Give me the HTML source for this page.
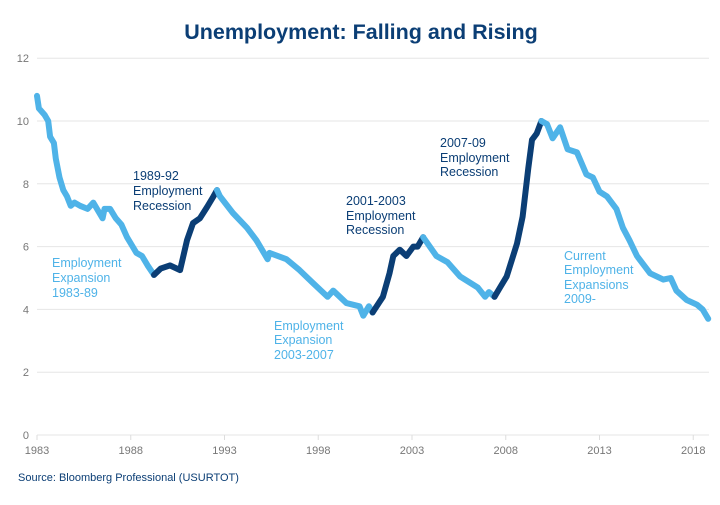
<!DOCTYPE html>
<html><head><meta charset="utf-8"><style>
body{margin:0;background:#fff;font-family:"Liberation Sans",sans-serif}
svg text{font-family:"Liberation Sans",sans-serif}
</style></head><body>
<svg width="720" height="500">
<text x="361" y="39" text-anchor="middle" font-size="21.5" font-weight="bold" fill="#0b3e75">Unemployment: Falling and Rising</text>
<g id="grid"></g><g id="axes"></g><g id="lines"></g>
<g font-size="12.5">
<text fill="#0b3e75"><tspan x="133" y="180">1989-92</tspan><tspan x="133" y="195">Employment</tspan><tspan x="133" y="210">Recession</tspan></text>
<text fill="#4fb3e8"><tspan x="52" y="267">Employment</tspan><tspan x="52" y="282">Expansion</tspan><tspan x="52" y="297">1983-89</tspan></text>
<text fill="#4fb3e8"><tspan x="274" y="330">Employment</tspan><tspan x="274" y="344">Expansion</tspan><tspan x="274" y="359">2003-2007</tspan></text>
<text fill="#0b3e75"><tspan x="346" y="205">2001-2003</tspan><tspan x="346" y="220">Employment</tspan><tspan x="346" y="234">Recession</tspan></text>
<text fill="#0b3e75"><tspan x="440" y="147">2007-09</tspan><tspan x="440" y="162">Employment</tspan><tspan x="440" y="176">Recession</tspan></text>
<text fill="#4fb3e8"><tspan x="564" y="260">Current</tspan><tspan x="564" y="274">Employment</tspan><tspan x="564" y="289">Expansions</tspan><tspan x="564" y="303">2009-</tspan></text>
</g>
<text x="18" y="481" font-size="11" fill="#0b3e75">Source: Bloomberg Professional (USURTOT)</text>
</svg>
<script>
const yTicks=[0,2,4,6,8,10,12];
const xTicks=[1983,1988,1993,1998,2003,2008,2013,2018];
const years=[1983.0,1983.1,1983.4,1983.6,1983.7,1983.9,1984.0,1984.2,1984.4,1984.6,1984.8,1985.0,1985.3,1985.7,1986.0,1986.3,1986.5,1986.6,1986.9,1987.2,1987.5,1987.8,1988.0,1988.3,1988.6,1988.9,1989.24,
1989.6,1990.09,1990.63,1991.0,1991.32,1991.69,1992.07,1992.39,1992.6,
1992.76,1993.45,1994.2,1994.7,1995.3,1995.4,1996.3,1997.0,1997.7,1998.5,1998.8,1999.5,2000.2,2000.4,2000.7,2000.9,
2001.45,2001.8,2002.0,2002.35,2002.7,2003.07,2003.3,2003.6,
2004.3,2004.9,2005.56,2006.5,2006.9,2007.1,2007.4,
2007.7,2008.05,2008.6,2008.9,2009.2,2009.4,2009.65,2009.9,
2010.2,2010.5,2010.9,2011.3,2011.8,2012.3,2012.65,2013.0,2013.4,2013.9,2014.25,2014.6,2015.0,2015.7,2016.4,2016.8,2017.1,2017.65,2018.2,2018.5,2018.8];
const rates=[10.8,10.4,10.2,10.0,9.5,9.3,8.8,8.2,7.8,7.6,7.3,7.4,7.3,7.2,7.4,7.1,6.9,7.2,7.2,6.9,6.7,6.3,6.1,5.8,5.7,5.4,5.1,
5.3,5.4,5.25,6.2,6.75,6.9,7.26,7.58,7.8,
7.6,7.07,6.6,6.2,5.6,5.8,5.6,5.25,4.85,4.4,4.6,4.2,4.1,3.8,4.1,3.9,
4.4,5.15,5.7,5.9,5.7,6.0,6.0,6.3,
5.7,5.5,5.05,4.7,4.4,4.55,4.4,
4.7,5.05,6.1,6.95,8.5,9.4,9.6,10.0,
9.9,9.45,9.8,9.1,9.0,8.3,8.2,7.75,7.6,7.2,6.6,6.2,5.7,5.15,4.95,5.0,4.6,4.3,4.15,4.0,3.7];
const recessionStart=[1989.24,2000.9,2007.4];
const recessionEnd=[1992.6,2003.6,2009.9];
const NS="http://www.w3.org/2000/svg";
const X=v=>37+(v-1983)*18.75, Y=v=>435-v*31.4;
function mk(t,a,p){const e=document.createElementNS(NS,t);for(const k in a)e.setAttribute(k,a[k]);p.appendChild(e);return e;}
const grid=document.getElementById('grid'),axes=document.getElementById('axes'),lines=document.getElementById('lines');
yTicks.forEach(t=>{
 const l=mk('line',{x1:37,x2:709,y1:Y(t),y2:Y(t),stroke:'#e6e6e6','stroke-width':1},grid);
 
 
 const tx=mk('text',{x:29,y:Y(t)+4,'text-anchor':'end','font-size':11,fill:'#777'},axes);tx.textContent=t;
 
 
});
xTicks.forEach(t=>{
 const l=mk('line',{x1:X(t),x2:X(t),y1:435,y2:440,stroke:'#ddd'},axes);
 
 
 const tx=mk('text',{x:X(t),y:454,'text-anchor':'middle','font-size':11,fill:'#777'},axes);tx.textContent=t;
 
 
});
function isRec(y){for(let i=0;i<recessionStart.length;i++)if(y>=recessionStart[i]&&y<=recessionEnd[i])return true;return false;}
let segs=[],cur=null;
for(let i=0;i<years.length-1;i++){
 const mid=(years[i]+years[i+1])/2, r=isRec(mid);
 if(!cur||cur.r!==r){cur={r,pts:[[years[i],rates[i]]]};segs.push(cur);}
 cur.pts.push([years[i+1],rates[i+1]]);
}
segs.forEach((s,i)=>{
 const p=mk('path',{d:'M'+s.pts.map(q=>X(q[0]).toFixed(1)+','+Y(q[1]).toFixed(1)).join('L'),fill:'none',stroke:s.r?'#0b3e75':'#4fb3e8','stroke-width':6,'stroke-linejoin':'round','stroke-linecap':'round'},lines);
 
 
});
</script>
</body></html>
